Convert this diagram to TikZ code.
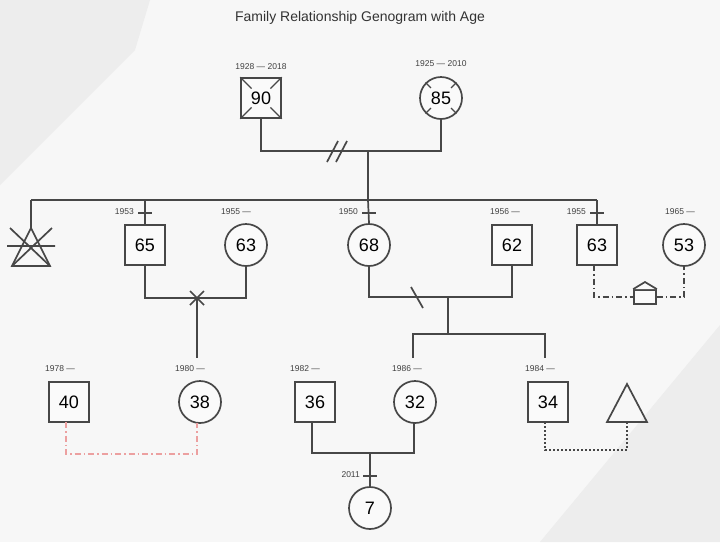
\documentclass[tikz,border=0pt]{standalone}
\usepackage{fontspec}
\setmainfont{Liberation Sans}
\usetikzlibrary{calc}
\begin{document}
\begin{tikzpicture}[x=1pt,y=-1pt,
  ln/.style={draw=black!72,line width=1.7pt},
  sq/.style={ln,fill=white!98!black,minimum size=40pt,inner sep=0pt,font=\fontsize{18}{18}\selectfont},
  ci/.style={ln,circle,fill=white!98!black,minimum size=42pt,inner sep=0pt,font=\fontsize{18}{18}\selectfont},
  yr/.style={font=\fontsize{8.5}{8.5}\selectfont,text=black!75,inner sep=0pt}]
\fill[black!3] (0,0) rectangle (720,542);
\fill[black!7] (0,0) -- (150,0) -- (135,50) -- (0,185) -- cycle;
\fill[black!7] (720,325) -- (720,542) -- (540,542) -- cycle;
\node[font=\fontsize{14}{14}\selectfont,text=black!80] (title) at (360,18) {Family Relationship Genogram with Age};
% generation 1
\node[sq] (g90) at (261,98) {90};
\foreach \c in {north west,north east,south west,south east}{\draw[ln,line width=1.1pt] (g90.\c) -- ($(g90.\c)!0.55!(g90.center)$);}
\node[ci] (g85) at (441,98) {85};
\foreach \a in {45,135,225,315}{\draw[ln,line width=1.1pt] (g85.\a) -- ($(g85.\a)!0.35!(g85.center)$);}
\node[yr] (y90) at (261,67) {1928 — 2018};
\node[yr] (y85) at (441,64) {1925 — 2010};
\coordinate (m1l) at (261,151); \coordinate (m1r) at (441,151); \coordinate (m1c) at (368,151);
\draw[ln] (g90.south) -- (m1l) -- (m1r) -- (g85.south);
\draw[ln] (327,162) -- (338,141) (336,162) -- (347,141);
\coordinate (s1c) at (368,200);
\draw[ln] (m1c) -- (s1c);
\coordinate (s1l) at (31,200); \coordinate (s1r) at (597,200);
\draw[ln] (s1l) -- (s1r);
% generation 2
\coordinate (tri) at (31,228);
\draw[ln] (31,228) -- (50,266) -- (12,266) -- cycle;
\draw[ln] (10,228) -- (50,266) (52,228) -- (12,266) (7,246) -- (55,246);
\draw[ln] (s1l) -- (tri);
\node[sq] (a65) at (145,245) {65};
\node[ci] (a63) at (246,245) {63};
\node[ci] (a68) at (369,245) {68};
\node[sq] (a62) at (512,245) {62};
\node[sq] (b63) at (597,245) {63};
\node[ci] (a53) at (684,245) {53};
\draw[ln] (145,200) -- (a65.north);
\draw[ln] (s1c) -- (a68.north);
\draw[ln] (s1r) -- (b63.north);
\foreach \x in {145,369,597}{\draw[ln] (\x-7,213) -- (\x+7,213);}
\node[yr,anchor=east] (y65) at (134,212) {1953};
\node[yr,anchor=east] (y68) at (358,212) {1950};
\node[yr,anchor=east] (y63b) at (586,212) {1955};
\node[yr] (y63) at (236,212) {1955 —};
\node[yr] (y62) at (505,212) {1956 —};
\node[yr] (y53) at (680,212) {1965 —};
% 65-63
\coordinate (m2c) at (197,298);
\draw[ln] (a65.south) |- (m2c) -| (a63.south);
\draw[ln] (190,291) -- (204,305) (204,291) -- (190,305);
\coordinate (c38) at (197,358);
\draw[ln] (m2c) -- (c38);
% 63-53
\node[ln,fill=white!98!black,minimum width=22pt,minimum height=14pt,inner sep=0pt] (house) at (645,297) {};
\draw[ln,fill=white!98!black] (house.north west) -- (645,282) -- (house.north east);
\draw[ln,line width=1.4pt,dash pattern=on 6pt off 3pt on 1.5pt off 3pt] (594,265) |- (house.west) (house.east) -| (684,266);
% 68-62
\coordinate (m3c) at (448,297);
\draw[ln] (a68.south) |- (m3c) -| (a62.south);
\draw[ln] (411,287) -- (423,308);
\coordinate (s3c) at (448,334);
\draw[ln] (m3c) -- (s3c);
\draw[ln] (413,358) |- (545,334) -- (545,358);
% generation 3
\node[sq] (c40) at (69,402) {40};
\node[ci] (c38n) at (200,402) {38};
\node[sq] (c36) at (315,402) {36};
\node[ci] (c32) at (415,402) {32};
\node[sq] (c34) at (548,402) {34};
\draw[ln] (627,384) -- (647,422) -- (607,422) -- cycle;
\coordinate (tri2) at (627,422);
\node[yr] (y40) at (60,369) {1978 —};
\node[yr] (y38) at (190,369) {1980 —};
\node[yr] (y36) at (305,369) {1982 —};
\node[yr] (y32) at (407,369) {1986 —};
\node[yr] (y34) at (540,369) {1984 —};
\draw[ln,draw=red!35!white!85!gray,line width=1.4pt,dash pattern=on 6pt off 3pt on 1.5pt off 3pt] (66,422) |- (197,454) -- (197,423);
\draw[ln,line width=1.4pt,dash pattern=on 2pt off 2pt] (545,422) |- (627,450) -- (tri2);
\coordinate (m4c) at (370,453);
\draw[ln] (312,422) |- (m4c) -| (414,423);
\node[ci] (d7) at (370,508) {7};
\draw[ln] (m4c) -- (d7.north);
\draw[ln] (363,476) -- (377,476);
\node[yr,anchor=east] (y7) at (360,475) {2011};
\end{tikzpicture}
\end{document}
